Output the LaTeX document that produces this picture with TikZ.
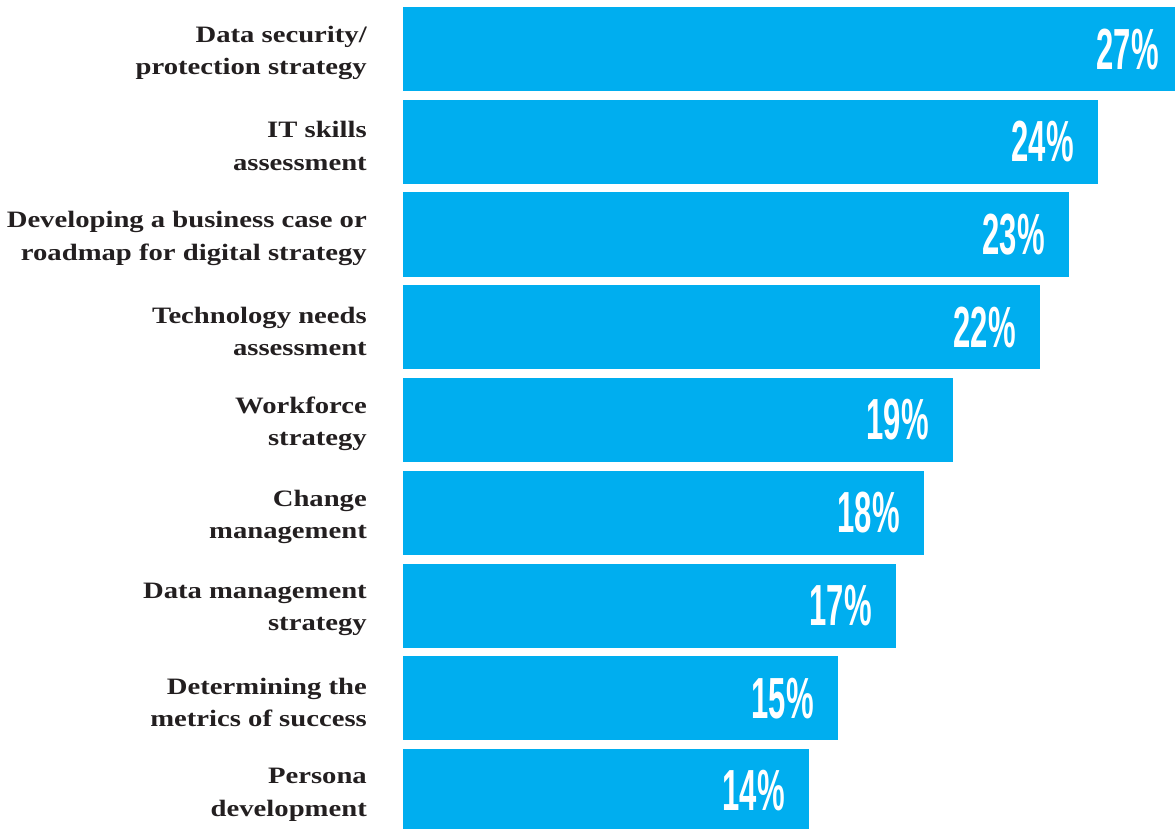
\documentclass[tikz,border=0pt]{standalone}
\usepackage{fontspec}
\setmainfont{Liberation Serif}
\newfontfamily\lblfont{Liberation Serif}[FakeStretch=1.22]
\newfontfamily\pctfont{Liberation Sans}
\definecolor{barblue}{HTML}{00AEEF}
\definecolor{ink}{HTML}{231F20}
\begin{document}
\begin{tikzpicture}[x=1pt,y=-1pt,
  bar/.style={fill=barblue,draw=none},
  lbl/.style={anchor=east,align=right,text=ink,inner sep=0pt,
    font=\fontsize{23.5}{32.5}\selectfont\lblfont\bfseries},
  pct/.style={anchor=east,text=white,inner sep=0pt,
    font=\fontsize{58}{58}\selectfont\pctfont\bfseries}]
\useasboundingbox (0,0) rectangle (1175,829);
\clip (0,0) rectangle (1175,829);
\foreach \i/\r/\p/\t in {
  0/1183/27/{Data security/\\protection strategy},
  1/1098/24/{IT skills\\assessment},
  2/1069/23/{Developing a business case or\\roadmap for digital strategy},
  3/1040/22/{Technology needs\\assessment},
  4/953/19/{Workforce\\strategy},
  5/924/18/{Change\\management},
  6/896/17/{Data management\\strategy},
  7/838/15/{Determining the\\metrics of success},
  8/809/14/{Persona\\development}}{
  \pgfmathsetmacro{\top}{7+92.75*\i}
  \pgfmathsetmacro{\mid}{\top+42}
  \path[bar] (403,\top) rectangle (\r,\top+84);
  \node[pct] (p\i) at (\r-24,\mid) {\scalebox{0.535}[1]{\p\%}};
  \node[lbl] (l\i) at (367,\mid+4) {\t};
}
\end{tikzpicture}
\end{document}
